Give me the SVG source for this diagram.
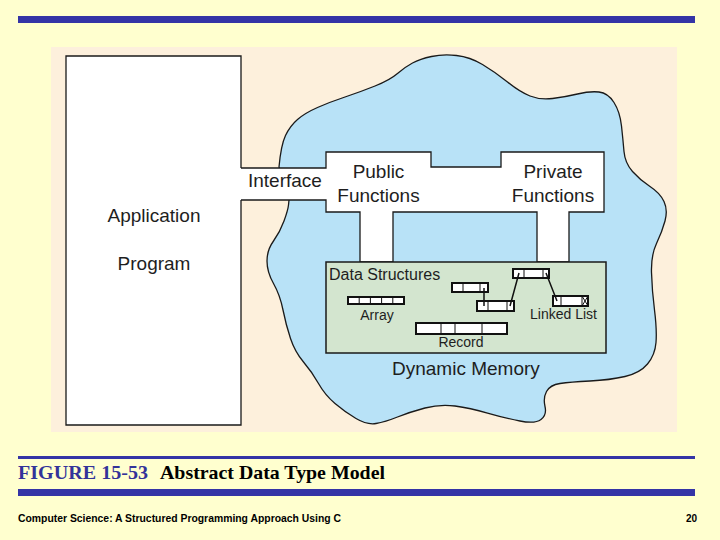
<svg xmlns="http://www.w3.org/2000/svg" width="720" height="540" viewBox="0 0 720 540">
<style>
.t{font-family:"Liberation Sans",Arial,sans-serif;fill:#1e1e1e}
.big{font-size:19px}
.mid{font-size:16px}
.sm{font-size:14px}
.ln{fill:none;stroke:#1a1a1a;stroke-width:1.3}
.cell{fill:#fff;stroke:#111;stroke-width:2}
.div{stroke:#111;stroke-width:1}
.ptr{stroke:#111;stroke-width:1.5;fill:none}
.bar{fill:#3434a6}
</style>
<rect x="0" y="0" width="720" height="540" fill="#ffffcf"/>
<rect class="bar" x="18" y="16" width="677" height="7"/>
<rect x="51" y="47" width="626" height="385" fill="#fdf0dc"/>

<g id="dynamic-memory">
<path d="M279,167 Q281,145 285.5,135.5 Q290,126 297.5,119.5 Q305,113 317.5,107.5 Q330,102 345,97 Q360,92 375,86 Q390,80 397.5,73.5 Q405,67 412.5,63 Q420,59 431.5,56.5 Q443,54 456.5,55.5 Q470,57 482.5,64.5 Q495,72 507.5,82 Q520,92 530,96 Q540,100 552.5,98.5 Q565,97 577.5,94 Q590,91 599,92 Q608,93 614,102.5 Q620,112 621.5,126 Q623,140 624,151.5 Q625,163 632.5,171.5 Q640,180 650,186.5 Q660,193 664,201.5 Q668,210 665,221 Q662,232 656.5,243.5 Q651,255 651.5,272.5 Q652,290 654.5,310 Q657,330 656,342.5 Q655,355 647.5,364 Q640,373 625,376.5 Q610,380 590,381 Q570,382 560,383.5 Q550,385 546.5,391.5 Q543,398 545,406.5 Q547,415 541,419.5 Q535,424 520,421 Q505,418 487.5,413 Q470,408 455,406 Q440,404 425,408 Q410,412 397.5,417 Q385,422 376,423.5 Q367,425 356,418.5 Q345,412 335,403.5 Q325,395 318.5,383.5 Q312,372 303.5,362 Q295,352 290.5,338.5 Q286,325 283,310 Q280,295 273.5,283.5 Q267,272 267,261 Q267,250 273.5,241 Q280,232 284,221 Q288,210 288.5,205 L289,200 Z" fill="#b8e2f7" stroke="#1a1a1a" stroke-width="1.3"/>
<text class="t big" x="392" y="375">Dynamic Memory</text>
</g>

<g id="application-program">
<path d="M241,56 H66 V425 H241 Z" fill="#fff"/>
<path class="ln" d="M241,168 V56 H66 V425 H241 V200"/>
<text class="t big" x="154" y="222" text-anchor="middle">Application</text>
<text class="t big" x="154" y="270" text-anchor="middle">Program</text>
</g>

<g id="connectors">
<path d="M241,168 H326 V152 H431 V167 H501 V152 H604 V212 H569 V262 H537 V212 H393 V262 H360 V212 H326 V200 H241" fill="#fff" stroke="#1a1a1a" stroke-width="1.3"/>
</g>

<g id="interface">
<text class="t big" x="248" y="187">Interface</text>
</g>

<g id="public-functions">
<text class="t big" x="378.5" y="178" text-anchor="middle">Public</text>
<text class="t big" x="378.5" y="202" text-anchor="middle">Functions</text>
</g>

<g id="private-functions">
<text class="t big" x="553" y="178" text-anchor="middle">Private</text>
<text class="t big" x="553" y="202" text-anchor="middle">Functions</text>
</g>

<g id="data-structures">
<rect x="326" y="262" width="280" height="91" fill="#d3e5cf" stroke="#1a1a1a" stroke-width="1.5"/>
<text class="t mid" x="329" y="280">Data Structures</text>
</g>

<g id="array">
<rect class="cell" x="348" y="297" width="56" height="7"/>
<path class="div" d="M359.2,297V304M370.4,297V304M381.6,297V304M392.8,297V304"/>
<text class="t sm" x="377" y="320" text-anchor="middle">Array</text>
</g>

<g id="record">
<rect class="cell" x="416" y="323" width="91" height="11"/>
<path class="div" d="M441,323V334M455,323V334M482,323V334"/>
<text class="t sm" x="461" y="347" text-anchor="middle">Record</text>
</g>

<g id="linked-list">
<rect class="cell" x="452" y="283" width="36" height="9"/>
<path class="div" d="M463,283V292M480,283V292"/>
<rect class="cell" x="477" y="301" width="37" height="10"/>
<path class="div" d="M488,301V311M507,301V311"/>
<rect class="cell" x="513" y="269" width="36" height="9"/>
<path class="div" d="M524,269V278M543,269V278"/>
<rect class="cell" x="553" y="296" width="35" height="10"/>
<path class="div" d="M561,296V306M582,296V306M582,296L588,306M588,296L582,306"/>
<path class="ptr" d="M484,288V306M510,306L519,273M546,273L557,301"/>
<text class="t sm" x="563.5" y="319" text-anchor="middle">Linked List</text>
</g>

<rect class="bar" x="18" y="456" width="677" height="3"/>
<text x="18" y="479" font-family="'Liberation Serif','Times New Roman',serif" font-weight="bold" font-size="19" fill="#333399" textLength="130" lengthAdjust="spacingAndGlyphs">FIGURE 15-53</text>
<text x="160" y="479" font-family="'Liberation Serif','Times New Roman',serif" font-weight="bold" font-size="19" fill="#000" textLength="225" lengthAdjust="spacingAndGlyphs">Abstract Data Type Model</text>
<rect class="bar" x="18" y="489" width="677" height="7"/>
<text x="18" y="522" font-family="'Liberation Sans',Arial,sans-serif" font-weight="bold" font-size="10" fill="#000" textLength="323" lengthAdjust="spacingAndGlyphs">Computer Science: A Structured Programming Approach Using C</text>
<text x="697" y="522" font-family="'Liberation Sans',Arial,sans-serif" font-weight="bold" font-size="10" fill="#000" text-anchor="end">20</text>
</svg>
